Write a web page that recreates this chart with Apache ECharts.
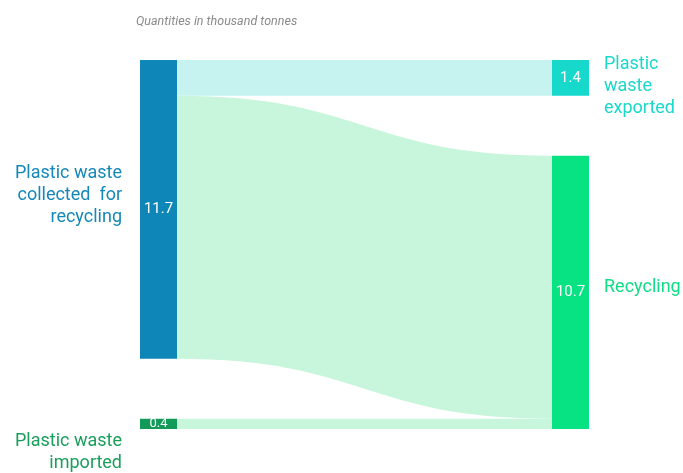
<!DOCTYPE html>
<html><head><meta charset="utf-8">
<script src="https://cdn.jsdelivr.net/npm/echarts@6/dist/echarts.min.js"></script>
<style>html,body{margin:0;padding:0;background:#fff}#c{width:683px;height:473px}</style>
</head><body><div id="c"></div>
<script>
const nodeNames = ['Plastic waste collected for recycling','Plastic waste imported','Plastic waste exported','Recycling'];
const nodeLabels = ['Plastic waste\ncollected  for\nrecycling','Plastic waste\nimported','Plastic\nwaste\nexported','Recycling'];
const nodeValues = [11.7, 0.4, 1.4, 10.7];
const linkSources = ['Plastic waste collected for recycling','Plastic waste collected for recycling','Plastic waste imported'];
const linkTargets = ['Plastic waste exported','Recycling','Recycling'];
const linkValues = [1.4, 10.3, 0.4];

const nodeColors = ['#0e86b8','#129a59','#16d9cc','#07e283'];
const labelColors = ['#1688b8','#1a9e5c','#1bd8c9','#10dd85'];
const labelOffsets = [[0,-14],[0,29],[0,9],[0,-5]];
const valueFontSizes = [15,13,15,15];
const linkColors = {'Plastic waste exported':'#c6f3f0','Recycling':'#c8f6dc'};

const chart = echarts.init(document.getElementById('c'));
const base = {
  type:'sankey', left:140, right:94, top:60, bottom:44,
  nodeWidth:37, nodeGap:60, layoutIterations:0, draggable:false,
  emphasis:{disabled:true}
};
const data1 = nodeNames.map((n,i)=>({name:n, value:nodeValues[i], itemStyle:{color:nodeColors[i], borderWidth:0},
  label:{show:true, position:'inside', color:'#fff', fontSize:valueFontSizes[i], fontFamily:'Roboto', formatter:String(nodeValues[i])}}));
const links1 = linkSources.map((s,i)=>({source:s, target:linkTargets[i], value:linkValues[i], lineStyle:{color:linkColors[linkTargets[i]], opacity:1, curveness:0.5}}));
const data2 = nodeNames.map((n,i)=>({name:n, value:nodeValues[i], itemStyle:{color:'rgba(0,0,0,0)', borderWidth:0},
  label:{show:true, position: i<2?'left':'right', distance: i<2?18:15, align: i<2?'right':'left', offset:labelOffsets[i], color:labelColors[i], fontSize:18, lineHeight:22, fontFamily:'Roboto', formatter:nodeLabels[i]}}));
const links2 = linkSources.map((s,i)=>({source:s, target:linkTargets[i], value:linkValues[i], lineStyle:{color:'rgba(0,0,0,0)', opacity:0}}));
chart.setOption({
  backgroundColor:'#fff',
  animation:false,
  title:{text:'Quantities in thousand tonnes', left:131, top:10, textStyle:{fontSize:12.5, fontStyle:'italic', fontWeight:'normal', color:'#8a8a8a', fontFamily:'Roboto'}},
  series:[
    Object.assign({}, base, {data:data1, links:links1}),
    Object.assign({}, base, {data:data2, links:links2, silent:true, z:3})
  ]
});
</script></body></html>
